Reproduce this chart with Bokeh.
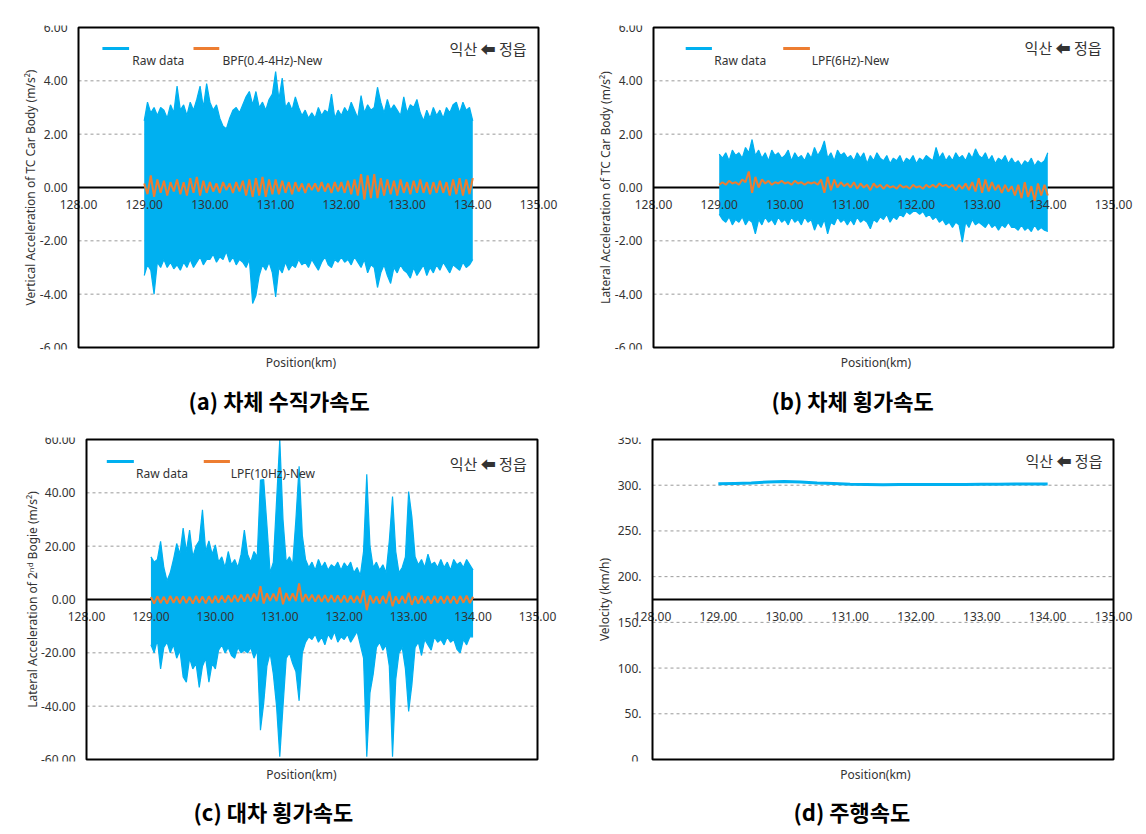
import numpy as np
from bokeh.plotting import figure
from bokeh.models import (LinearAxis, FixedTicker, PrintfTickFormatter, Label,
                          Range1d, BoxAnnotation, Title)
from bokeh.layouts import column, row
from bokeh.embed import file_html
from bokeh.resources import INLINE

# ---------------- data ----------------
x_ticks = [128, 129, 130, 131, 132, 133, 134, 135]
acc_ticks = [-6, -4, -2, 0, 2, 4, 6]
bogie_ticks = [-60, -40, -20, 0, 20, 40, 60]
vel_ticks = [0, 50, 100, 150, 200, 250, 300, 350]

# sample positions of the read envelope (km)
pos = np.linspace(129.0, 134.0, 101)

# (a) vertical acceleration of car body, raw data envelope and BPF signal
a_raw_upper = [2.5, 3.2, 2.8, 3.0, 2.7, 3.0, 2.9, 2.6, 3.1, 2.8,
               3.8, 2.9, 3.1, 2.7, 3.2, 2.9, 3.3, 3.8, 3.0, 3.9,
               3.2, 2.9, 3.1, 2.6, 2.3, 2.2, 2.6, 2.9, 3.0, 2.8,
               3.1, 3.4, 3.6, 3.1, 3.6, 3.0, 3.2, 2.9, 3.3, 3.5,
               4.35, 3.3, 4.1, 3.0, 3.2, 2.9, 3.4, 3.0, 2.7, 2.9,
               2.6, 2.8, 2.6, 3.0, 2.7, 2.9, 2.8, 3.5, 2.6, 2.9,
               2.7, 3.0, 2.8, 3.2, 2.9, 2.6, 3.45, 2.8, 3.1, 2.9,
               3.0, 3.76, 3.2, 2.8, 3.3, 2.9, 3.1, 2.9, 2.7, 3.4,
               2.8, 3.1, 3.0, 3.3, 2.8, 2.5, 2.9, 2.6, 3.0, 2.7,
               2.9, 2.6, 3.0, 2.8, 3.1, 3.2, 2.8, 3.2, 2.9, 3.0,
               2.5]
a_raw_lower = [-3.3, -2.9, -3.1, -4.0, -2.8, -3.0, -2.7, -3.0, -2.8, -3.05,
               -2.9, -3.1, -2.8, -3.0, -2.7, -3.0, -2.8, -2.6, -2.9, -2.7,
               -2.7, -2.5, -2.8, -2.6, -2.7, -2.4, -2.8, -2.6, -2.9, -2.7,
               -2.8, -3.0, -2.7, -4.35, -4.05, -3.3, -2.9, -3.1, -2.8, -3.2,
               -4.1, -3.0, -3.2, -2.8, -3.1, -2.9, -3.0, -2.7, -2.9, -2.8,
               -3.0, -2.7, -2.9, -3.1, -2.8, -2.6, -2.9, -3.0, -2.7, -2.8,
               -2.6, -2.8, -2.7, -2.9, -2.6, -2.8, -3.0, -2.7, -3.2, -2.9,
               -3.0, -3.75, -3.2, -2.9, -3.3, -3.6, -3.0, -3.2, -2.9, -3.1,
               -3.2, -3.4, -3.0, -3.3, -3.1, -2.9, -3.3, -3.0, -3.2, -2.9,
               -3.1, -2.8, -3.0, -3.2, -2.9, -3.0, -3.1, -2.8, -3.0, -2.9,
               -2.7]
a_bpf = [0.15, -0.25, 0.45, -0.35, 0.3, -0.2, 0.25, -0.3, 0.2, -0.15,
         0.3, -0.25, 0.2, -0.3, 0.35, -0.2, 0.4, -0.3, 0.25, -0.2,
         0.2, -0.15, 0.15, -0.2, 0.2, -0.1, 0.15, -0.2, 0.2, -0.15,
         0.25, -0.3, 0.3, -0.35, 0.35, -0.3, 0.4, -0.35, 0.3, -0.25,
         0.3, -0.25, 0.25, -0.2, 0.2, -0.25, 0.2, -0.15, 0.15, -0.2,
         0.15, -0.1, 0.15, -0.15, 0.2, -0.15, 0.15, -0.2, 0.2, -0.15,
         0.2, -0.2, 0.25, -0.25, 0.3, -0.3, 0.5, -0.45, 0.45, -0.4,
         0.5, -0.4, 0.35, -0.3, 0.3, -0.25, 0.25, -0.3, 0.3, -0.2,
         0.2, -0.25, 0.25, -0.2, 0.3, -0.2, 0.2, -0.25, 0.2, -0.2,
         0.25, -0.2, 0.2, -0.3, 0.3, -0.25, 0.35, -0.3, 0.3, -0.25,
         0.35]

# (b) lateral acceleration of car body
b_raw_upper = [1.25, 1.1, 1.3, 1.0, 1.4, 1.2, 1.3, 1.1, 1.5, 1.3,
               1.8, 1.2, 1.4, 1.1, 1.3, 1.0, 1.4, 1.2, 1.3, 1.1,
               1.2, 1.4, 1.0, 1.3, 1.1, 1.2, 1.0, 1.3, 1.1, 1.5,
               1.2, 1.4, 1.75, 1.1, 1.3, 1.0, 1.4, 1.2, 1.3, 1.1,
               1.2, 1.0, 1.3, 1.1, 1.3, 0.9, 1.2, 1.0, 1.3, 1.1,
               1.0, 1.2, 0.9, 1.1, 1.0, 1.2, 0.9, 1.1, 1.0, 1.2,
               0.9, 1.1, 1.0, 1.2, 1.1, 1.0, 1.5, 1.1, 1.3, 1.0,
               1.2, 1.0, 1.3, 1.1, 1.2, 1.0, 1.3, 1.1, 1.45, 1.2,
               1.1, 1.3, 1.0, 1.2, 0.9, 1.1, 1.0, 1.2, 0.9, 1.1,
               0.9, 1.0, 0.8, 1.0, 0.9, 1.1, 0.8, 1.0, 0.9, 1.0,
               1.3]
b_raw_lower = [-1.0, -1.2, -1.3, -1.1, -1.4, -1.2, -1.3, -1.1, -1.4, -1.2,
               -1.3, -1.74, -1.2, -1.4, -1.1, -1.3, -1.2, -1.4, -1.1, -1.3,
               -1.2, -1.4, -1.1, -1.3, -1.2, -1.4, -1.1, -1.3, -1.2, -1.6,
               -1.3, -1.5, -1.2, -1.74, -1.3, -1.4, -1.1, -1.3, -1.2, -1.4,
               -1.2, -1.4, -1.1, -1.3, -1.2, -1.3, -1.55, -1.2, -1.3, -1.1,
               -1.2, -1.0, -1.3, -1.1, -1.2, -1.0, -1.1, -0.9, -1.0, -0.9,
               -0.9, -1.0, -0.9, -1.1, -1.0, -1.2, -1.1, -1.3, -1.2, -1.4,
               -1.3, -1.5, -1.3, -1.4, -2.05, -1.3, -1.5, -1.2, -1.4, -1.3,
               -1.4, -1.5, -1.3, -1.5, -1.4, -1.6, -1.4, -1.5, -1.3, -1.5,
               -1.5, -1.6, -1.4, -1.6, -1.5, -1.65, -1.4, -1.6, -1.5, -1.6,
               -1.65]
b_lpf = [0.1, 0.2, 0.1, 0.25, 0.15, 0.2, 0.1, 0.3, 0.2, 0.6,
         -0.2, 0.4, 0.0, 0.3, 0.15, 0.25, 0.1, 0.2, 0.15, 0.25,
         0.15, 0.2, 0.1, 0.25, 0.15, 0.2, 0.1, 0.2, 0.15, 0.2,
         0.1, 0.3, -0.2, 0.4, -0.1, 0.3, 0.0, 0.2, 0.05, 0.15,
         0.0, 0.2, -0.05, 0.15, 0.0, 0.1, -0.1, 0.15, 0.0, 0.1,
         -0.05, 0.1, 0.0, 0.05, -0.05, 0.1, 0.0, 0.05, -0.05, 0.1,
         0.0, 0.05, -0.05, 0.1, 0.0, 0.1, 0.0, 0.15, 0.05, 0.1,
         0.0, 0.1, -0.1, 0.1, -0.05, 0.15, -0.1, 0.2, -0.15, 0.35,
         -0.2, 0.3, -0.15, 0.2, -0.1, 0.1, -0.2, 0.1, -0.15, 0.05,
         -0.3, 0.1, -0.4, 0.2, -0.35, 0.05, -0.5, 0.15, -0.3, 0.1,
         -0.3]

# (c) lateral acceleration of 2nd bogie
c_raw_upper = [16, 14, 15, 21.8, 12, 7, 10, 15, 21, 17,
               26.8, 18, 26, 16, 20, 22, 33.6, 18, 22, 17,
               20.5, 14, 16, 12, 18, 13, 15, 12, 17, 26,
               17, 14, 18, 16, 44.8, 45, 28, 10, 14, 37,
               60, 30, 14, 16, 13, 30, 50, 24, 15, 12,
               14, 11, 15, 12, 14, 11, 13, 12, 14, 11,
               13.7, 12, 14, 10, 12, 9, 18, 47, 20, 12,
               14, 11, 13, 10, 22, 38.6, 18, 10, 12, 16,
               40.5, 31, 16, 13, 15, 12, 17, 13, 14, 12,
               15, 12, 14, 11, 15, 13, 14, 12, 15, 13,
               11]
c_raw_lower = [-17, -20, -15, -26, -18, -16, -20, -17, -22, -19,
               -29, -31, -22, -26, -24, -33, -25, -22, -31, -24,
               -26, -19, -17, -20, -18, -21, -22, -18, -20, -19,
               -20, -18, -22, -19, -49, -39, -25, -20, -28, -40,
               -59, -40, -22, -20, -24, -27, -38, -20, -16, -14,
               -15, -13, -16, -14, -17, -13, -15, -12, -16, -14,
               -15, -13, -16, -14, -12, -17, -22, -59, -35, -28,
               -18, -16, -19, -17, -25, -59, -30, -20, -18, -26,
               -42, -32, -18, -16, -21, -15, -17, -19, -14, -16,
               -15, -17, -14, -16, -15, -18.7, -20, -15, -17, -14,
               -14]
c_lpf = [1.0, -1.5, 1.2, -1.3, 1.0, -1.5, 1.3, -1.2, 1.1, -1.4,
         1.2, -1.3, 1.0, -1.5, 1.3, -1.2, 1.1, -1.4, 1.2, -1.3,
         1.3, -1.2, 1.4, -1.1, 1.5, -1.0, 1.6, -0.9, 1.8, -0.8,
         2.0, -0.7, 2.2, -0.6, 5.0, -1.5, 2.3, -0.5, 2.2, -0.6,
         4.5, -1.8, 2.4, -0.5, 2.3, -0.6, 6.0, -1.0, 2.0, -0.6,
         1.8, -0.8, 1.7, -0.9, 1.6, -1.0, 1.6, -1.0, 1.5, -1.1,
         1.5, -1.1, 1.4, -1.2, 1.3, -1.3, 3.5, -4.0, 1.5, -1.4,
         1.2, -1.5, 1.3, -1.4, 3.0, -2.5, 1.2, -1.5, 1.3, -1.4,
         2.5, -2.0, 1.2, -1.5, 1.4, -1.3, 1.2, -1.5, 1.3, -1.2,
         1.2, -1.4, 1.3, -1.3, 1.2, -1.5, 1.3, -1.2, 1.4, -1.3,
         1.0]

# (d) running velocity
vel_pos = [129.0, 129.25, 129.5, 129.75, 130.0, 130.25, 130.5, 130.75, 131.0,
           131.25, 131.5, 131.75, 132.0, 132.25, 132.5, 132.75, 133.0, 133.25,
           133.5, 133.75, 134.0]
vel = [301.5, 302.0, 302.5, 303.5, 304.0, 303.5, 302.5, 302.0, 301.0,
       300.8, 300.5, 300.8, 300.8, 300.8, 300.8, 300.8, 301.0, 301.0,
       301.2, 301.2, 301.2]

# ---------------- style ----------------
BLUE = "#00B0F0"
ORANGE = "#ED7D31"
TXT = "#333333"
FONT = "Noto Sans"
KFONT = "Noto Sans CJK KR"
X0, X1 = 128, 135
W = 573
EXT_R, EXT_V = 25, 2


def no_ticks_axis(**kw):
    return LinearAxis(ticker=FixedTicker(ticks=[]), axis_line_color=None,
                      major_tick_line_color=None, minor_tick_line_color=None,
                      axis_label_text_font_style="normal", **kw)


def make_panel(H, bl, br, bt, bb, ext_l, yr, yticks, yfmt, ylabel, axis_at,
               caption, cap_offset, cap_standoff):
    box_w = W - bl - br
    box_h = H - bt - bb
    kx = (X1 - X0) / box_w
    ky = (yr[1] - yr[0]) / box_h
    p = figure(width=W, height=H,
               x_range=Range1d(X0 - ext_l * kx, X1 + EXT_R * kx),
               y_range=Range1d(yr[0] - EXT_V * ky, yr[1] + EXT_V * ky),
               output_backend="svg", toolbar_location=None,
               min_border_left=bl - ext_l, min_border_right=br - EXT_R,
               min_border_top=bt - EXT_V, min_border_bottom=bb - EXT_V,
               background_fill_color="white", border_fill_color="white")
    p.outline_line_color = None
    p.xgrid.visible = False
    p.ygrid.visible = False

    # dashed horizontal grid lines, only inside the box
    gy = [t for t in yticks if t != axis_at]
    p.segment(x0=X0, x1=X1, y0=gy, y1=gy, line_color="#9a9a9a",
              line_dash="3 3", line_width=1, level="underlay")

    # black zero line (under the data)
    zl = LinearAxis(ticker=FixedTicker(ticks=[]), fixed_location=axis_at,
                    bounds=(X0, X1), axis_line_color="black", axis_line_width=2,
                    major_tick_line_color=None, minor_tick_line_color=None,
                    level="underlay")
    p.add_layout(zl, "below")

    # tick labels of the position axis at the zero line
    xa = p.xaxis[0]
    xa.ticker = FixedTicker(ticks=x_ticks)
    xa.formatter = PrintfTickFormatter(format="%.2f")
    xa.fixed_location = axis_at
    xa.bounds = (X0, X1)
    xa.axis_line_color = None
    xa.major_tick_line_color = None
    xa.minor_tick_line_color = None
    xa.major_label_standoff = 6
    xa.major_label_text_font = FONT
    xa.major_label_text_font_size = "12px"
    xa.major_label_text_color = TXT

    ya = p.yaxis[0]
    ya.ticker = FixedTicker(ticks=yticks)
    ya.formatter = PrintfTickFormatter(format=yfmt)
    ya.fixed_location = X0
    ya.bounds = yr
    ya.axis_line_color = None
    ya.major_tick_line_color = None
    ya.minor_tick_line_color = None
    ya.major_label_standoff = 5
    ya.major_label_text_font = FONT
    ya.major_label_text_font_size = "12px"
    ya.major_label_text_color = TXT

    yl = no_ticks_axis(axis_label=ylabel, bounds=yr, axis_label_standoff=0,
                       axis_label_text_font=FONT, axis_label_text_font_size="12px",
                       axis_label_text_color=TXT)
    p.add_layout(yl, "left")

    xl = no_ticks_axis(axis_label="Position(km)", bounds=(X0, X1),
                       axis_label_standoff=4, axis_label_text_font=FONT,
                       axis_label_text_font_size="12px", axis_label_text_color=TXT)
    p.add_layout(xl, "below")

    p.add_layout(Title(text=caption, align="left", offset=cap_offset,
                       standoff=cap_standoff, text_font=KFONT,
                       text_font_size="22px", text_font_style="bold",
                       text_color="black"), "below")

    p.add_layout(BoxAnnotation(left=X0, right=X1, bottom=yr[0], top=yr[1],
                               fill_alpha=0, line_color="black", line_alpha=1,
                               line_width=2))
    return p


def fxd(f):
    return X0 + f * (X1 - X0)


def fyd(yr, f):
    return yr[1] - f * (yr[1] - yr[0])


def add_arrow_text(p, yr, f):
    p.add_layout(Label(x=fxd(f[0]), y=fyd(yr, f[1]), text="익산 ⬅ 정읍",
                       text_align="right", text_baseline="middle", text_font=KFONT,
                       text_font_size="15px", text_color=TXT))


def add_legend(p, yr, entries):
    for lab, col, s0, s1, tx, ly, ty in entries:
        p.line([fxd(s0), fxd(s1)], [fyd(yr, ly), fyd(yr, ly)], line_color=col,
               line_width=3)
        p.add_layout(Label(x=fxd(tx), y=fyd(yr, ty), text=lab, text_align="left",
                           text_baseline="middle", text_font=FONT,
                           text_font_size="12px", text_color=TXT))


def accel_panel(H, bl, br, bt, bb, ext_l, yr, yticks, ylabel, upper, lower, filt,
                filt_label, arrow_f, caption, cap_offset, cap_standoff, leg):
    p = make_panel(H, bl, br, bt, bb, ext_l, yr, yticks, "%.2f", ylabel, 0,
                   caption, cap_offset, cap_standoff)
    p.varea(x=pos, y1=lower, y2=upper, fill_color=BLUE)
    p.line(pos, upper, line_color=BLUE, line_width=1.2)
    p.line(pos, lower, line_color=BLUE, line_width=1.2)
    p.line(pos, filt, line_color=ORANGE, line_width=2)
    (b0, b1, bt_, ly, ty), (o0, o1, ot) = leg
    add_legend(p, yr, [("Raw data", BLUE, b0, b1, bt_, ly, ty),
                       (filt_label, ORANGE, o0, o1, ot, ly, ty)])
    add_arrow_text(p, yr, arrow_f)
    return p


TOP_H, BOT_H = 425, 409

pa = accel_panel(TOP_H, 78, 35, 27, 78, 40, (-6, 6), acc_ticks,
                 "Vertical Acceleration of TC Car Body (m/s²)",
                 a_raw_upper, a_raw_lower, a_bpf, "BPF(0.4-4Hz)-New",
                 (0.974, 0.066), "(a) 차체 수직가속도", 150, 17,
                 ((0.052, 0.110, 0.117, 0.066, 0.103), (0.25, 0.306, 0.313)))
pb = accel_panel(TOP_H, 80, 33, 27, 78, 40, (-6, 6), acc_ticks,
                 "Lateral Acceleration of TC Car Body (m/s²)",
                 b_raw_upper, b_raw_lower, b_lpf, "LPF(6Hz)-New",
                 (0.974, 0.0625), "(b) 차체 횡가속도", 158, 17,
                 ((0.07, 0.127, 0.132, 0.066, 0.103), (0.282, 0.34, 0.344)))
pc = accel_panel(BOT_H, 86, 36, 14, 75, 46, (-60, 60), bogie_ticks,
                 "Lateral Acceleration of 2ⁿᵈ Bogie (m/s²)",
                 c_raw_upper, c_raw_lower, c_lpf, "LPF(10Hz)-New",
                 (0.976, 0.075), "(c) 대차 횡가속도", 153, 14,
                 ((0.045, 0.105, 0.11, 0.069, 0.106), (0.26, 0.318, 0.32)))

pd_ = make_panel(BOT_H, 79, 33, 14, 75, 40, (0, 350), vel_ticks, "%.0f.",
                 "Velocity (km/h)", 175, "(d) 주행속도", 181, 14)
pd_.line(vel_pos, vel, line_color=BLUE, line_width=3)
add_arrow_text(pd_, (0, 350), (0.976, 0.066))

layout = column(row(pa, pb), row(pc, pd_))
open("out.html", "w").write(file_html(layout, INLINE))
